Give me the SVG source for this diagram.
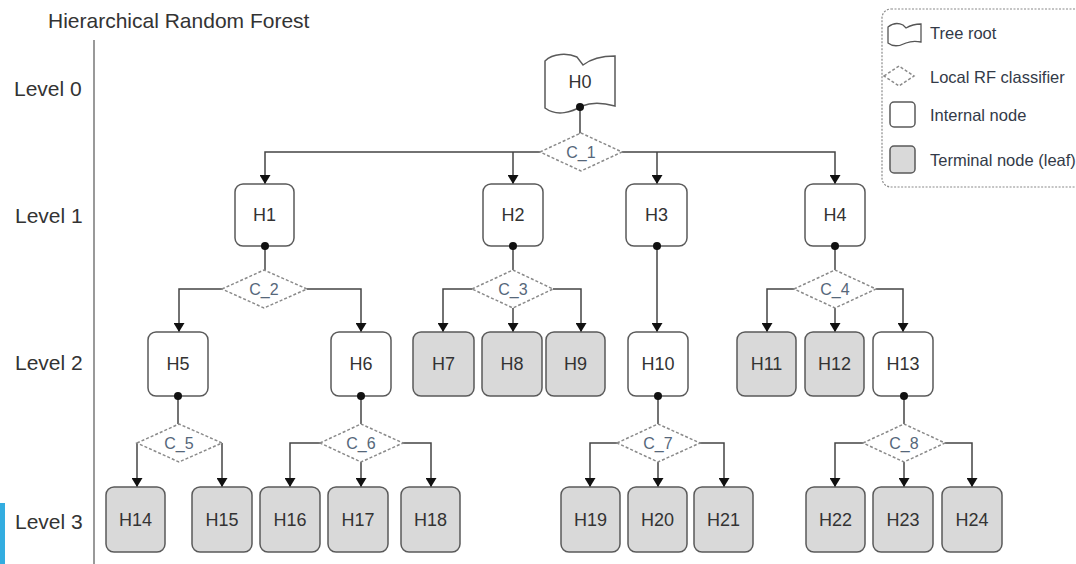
<svg xmlns="http://www.w3.org/2000/svg" width="1076" height="564" viewBox="0 0 1076 564">
<style>
text{font-family:"Liberation Sans",Arial,sans-serif;fill:#333}
.title{font-size:21px}
.lvl{font-size:21px}
.lbl{font-size:18px;text-anchor:middle}
.clbl{font-size:16px;text-anchor:middle;fill:#56677a}
.leg{font-size:16.5px;fill:#333a48}
.int{fill:#fff;stroke:#5a5a5a;stroke-width:1.5}
.leaf{fill:#d9d9d9;stroke:#5a5a5a;stroke-width:1.5}
.clf{fill:#fff;stroke:#8a8a8a;stroke-width:1.5;stroke-dasharray:3 2}
.edge{fill:none;stroke:#444;stroke-width:1.5}
.arr{marker-end:url(#ah)}
.dot{fill:#111}
</style>
<defs>
<marker id="ah" viewBox="0 0 10 10" refX="10" refY="5" markerWidth="9" markerHeight="11" markerUnits="userSpaceOnUse" orient="auto" preserveAspectRatio="none">
<path d="M0,0 L10,5 L0,10 z" fill="#111"/>
</marker>
</defs>
<rect width="1076" height="564" fill="#fff"/>
<rect x="0" y="503" width="5" height="61" fill="#33ade0"/>
<text class="title" x="48" y="28">Hierarchical Random Forest</text>
<line x1="94" y1="40" x2="94" y2="564" stroke="#777" stroke-width="1.5"/>
<text class="lvl" x="14" y="96">Level 0</text>
<text class="lvl" x="15" y="223">Level 1</text>
<text class="lvl" x="15" y="370">Level 2</text>
<text class="lvl" x="15" y="529">Level 3</text>

<g id="legend">
<rect x="882" y="9" width="210" height="178" rx="9" fill="#fff" stroke="#8a8a8a" stroke-width="1.2" stroke-dasharray="2 1.5"/>
<path d="M888,27 C893,23 899,23 903,25 L906,28 C911,25 916,24 921,24 L921,42 C916,41 911,41 906,43 C900,46 893,47 888,43 Z" fill="#fff" stroke="#555" stroke-width="1.3"/>
<text class="leg" x="930" y="39">Tree root</text>
<polygon points="884,76 899,66 914,76 899,86" class="clf"/>
<text class="leg" x="930" y="83">Local RF classifier</text>
<rect x="890" y="102" width="25" height="25" rx="4" class="int"/>
<text class="leg" x="930" y="121">Internal node</text>
<rect x="890" y="146" width="25" height="27" rx="4" class="leaf"/>
<text class="leg" x="930" y="166">Terminal node (leaf)</text>
</g>

<g id="connectors">
<path class="edge" d="M580,107 V134"/>
<path class="edge arr" d="M540,152 H265 V184"/>
<path class="edge arr" d="M513,152 V184"/>
<path class="edge arr" d="M622,152 H835 V184"/>
<path class="edge arr" d="M657,152 V184"/>
<path class="edge" d="M265,246 V270"/>
<path class="edge arr" d="M222,289 H179 V332"/>
<path class="edge arr" d="M307,289 H361 V332"/>
<path class="edge" d="M513,246 V270"/>
<path class="edge arr" d="M472,289 H443 V332"/>
<path class="edge arr" d="M513,308 V332"/>
<path class="edge arr" d="M553,289 H581 V332"/>
<path class="edge arr" d="M657,246 V332"/>
<path class="edge" d="M835,246 V270"/>
<path class="edge arr" d="M794,289 H767 V332"/>
<path class="edge arr" d="M835,308 V332"/>
<path class="edge arr" d="M876,289 H903 V332"/>
<path class="edge" d="M178,395 V424"/>
<path class="edge arr" d="M137,443 V487"/>
<path class="edge arr" d="M222,443 V487"/>
<path class="edge" d="M361,395 V424"/>
<path class="edge arr" d="M320,443 H290 V487"/>
<path class="edge arr" d="M361,462 V487"/>
<path class="edge arr" d="M403,443 H431 V487"/>
<path class="edge" d="M658,395 V424"/>
<path class="edge arr" d="M617,443 H590 V487"/>
<path class="edge arr" d="M658,462 V487"/>
<path class="edge arr" d="M700,443 H724 V487"/>
<path class="edge" d="M904,395 V424"/>
<path class="edge arr" d="M863,443 H835 V487"/>
<path class="edge arr" d="M904,462 V487"/>
<path class="edge arr" d="M945,443 H972 V487"/>
</g>

<g id="H0"><path d="M545,61 C553,53 568,53 577,57 L583,65 C592,58 604,56 615,56 L615,106 C604,103 592,102 582,106 C572,112 557,117 545,108 Z" fill="#fff" stroke="#5a5a5a" stroke-width="1.5"/><text class="lbl" x="580" y="88">H0</text></g>

<g id="C_1"><polygon class="clf" points="540,152 581,133 622,152 581,171"/><text class="clbl" x="581" y="158">C_1</text></g>
<g id="C_2"><polygon class="clf" points="222,289 264,270 307,289 264,308"/><text class="clbl" x="264" y="295">C_2</text></g>
<g id="C_3"><polygon class="clf" points="472,289 513,270 553,289 513,308"/><text class="clbl" x="513" y="295">C_3</text></g>
<g id="C_4"><polygon class="clf" points="794,289 835,270 876,289 835,308"/><text class="clbl" x="835" y="295">C_4</text></g>
<g id="C_5"><polygon class="clf" points="137,443 179,424 222,443 179,462"/><text class="clbl" x="179" y="449">C_5</text></g>
<g id="C_6"><polygon class="clf" points="320,443 361,424 403,443 361,462"/><text class="clbl" x="361" y="449">C_6</text></g>
<g id="C_7"><polygon class="clf" points="617,443 658,424 700,443 658,462"/><text class="clbl" x="658" y="449">C_7</text></g>
<g id="C_8"><polygon class="clf" points="863,443 904,424 945,443 904,462"/><text class="clbl" x="904" y="449">C_8</text></g>

<g id="H1"><rect class="int" x="235" y="184" width="59" height="62" rx="8"/><text class="lbl" x="264.5" y="221">H1</text></g>
<g id="H2"><rect class="int" x="483" y="184" width="60" height="62" rx="8"/><text class="lbl" x="513" y="221">H2</text></g>
<g id="H3"><rect class="int" x="626" y="184" width="61" height="62" rx="8"/><text class="lbl" x="656.5" y="221">H3</text></g>
<g id="H4"><rect class="int" x="805" y="184" width="60" height="62" rx="8"/><text class="lbl" x="835" y="221">H4</text></g>

<g id="H5"><rect class="int" x="148" y="332" width="60" height="64" rx="8"/><text class="lbl" x="178" y="370">H5</text></g>
<g id="H6"><rect class="int" x="331" y="332" width="60" height="64" rx="8"/><text class="lbl" x="361" y="370">H6</text></g>
<g id="H7"><rect class="leaf" x="413" y="332" width="61" height="64" rx="8"/><text class="lbl" x="443.5" y="370">H7</text></g>
<g id="H8"><rect class="leaf" x="482" y="332" width="60" height="64" rx="8"/><text class="lbl" x="512" y="370">H8</text></g>
<g id="H9"><rect class="leaf" x="546" y="332" width="59" height="64" rx="8"/><text class="lbl" x="575.5" y="370">H9</text></g>
<g id="H10"><rect class="int" x="628" y="332" width="60" height="64" rx="8"/><text class="lbl" x="658" y="370">H10</text></g>
<g id="H11"><rect class="leaf" x="737" y="332" width="59" height="64" rx="8"/><text class="lbl" x="766.5" y="370">H11</text></g>
<g id="H12"><rect class="leaf" x="805" y="332" width="59" height="64" rx="8"/><text class="lbl" x="834.5" y="370">H12</text></g>
<g id="H13"><rect class="int" x="873" y="332" width="60" height="64" rx="8"/><text class="lbl" x="903" y="370">H13</text></g>

<g id="H14"><rect class="leaf" x="106" y="487" width="59" height="65" rx="8"/><text class="lbl" x="135.5" y="526">H14</text></g>
<g id="H15"><rect class="leaf" x="192" y="487" width="60" height="65" rx="8"/><text class="lbl" x="222" y="526">H15</text></g>
<g id="H16"><rect class="leaf" x="260" y="487" width="60" height="65" rx="8"/><text class="lbl" x="290" y="526">H16</text></g>
<g id="H17"><rect class="leaf" x="328" y="487" width="60" height="65" rx="8"/><text class="lbl" x="358" y="526">H17</text></g>
<g id="H18"><rect class="leaf" x="401" y="487" width="59" height="65" rx="8"/><text class="lbl" x="430.5" y="526">H18</text></g>
<g id="H19"><rect class="leaf" x="561" y="487" width="59" height="65" rx="8"/><text class="lbl" x="590.5" y="526">H19</text></g>
<g id="H20"><rect class="leaf" x="628" y="487" width="59" height="65" rx="8"/><text class="lbl" x="657.5" y="526">H20</text></g>
<g id="H21"><rect class="leaf" x="694" y="487" width="59" height="65" rx="8"/><text class="lbl" x="723.5" y="526">H21</text></g>
<g id="H22"><rect class="leaf" x="806" y="487" width="59" height="65" rx="8"/><text class="lbl" x="835.5" y="526">H22</text></g>
<g id="H23"><rect class="leaf" x="873" y="487" width="60" height="65" rx="8"/><text class="lbl" x="903" y="526">H23</text></g>
<g id="H24"><rect class="leaf" x="942" y="487" width="60" height="65" rx="8"/><text class="lbl" x="972" y="526">H24</text></g>

<g id="dots">
<circle class="dot" cx="580" cy="107" r="4"/>
<circle class="dot" cx="265" cy="246" r="4"/>
<circle class="dot" cx="513" cy="246" r="4"/>
<circle class="dot" cx="657" cy="246" r="4"/>
<circle class="dot" cx="835" cy="246" r="4"/>
<circle class="dot" cx="178" cy="396" r="4"/>
<circle class="dot" cx="361" cy="396" r="4"/>
<circle class="dot" cx="658" cy="396" r="4"/>
<circle class="dot" cx="904" cy="396" r="4"/>
</g>
</svg>
